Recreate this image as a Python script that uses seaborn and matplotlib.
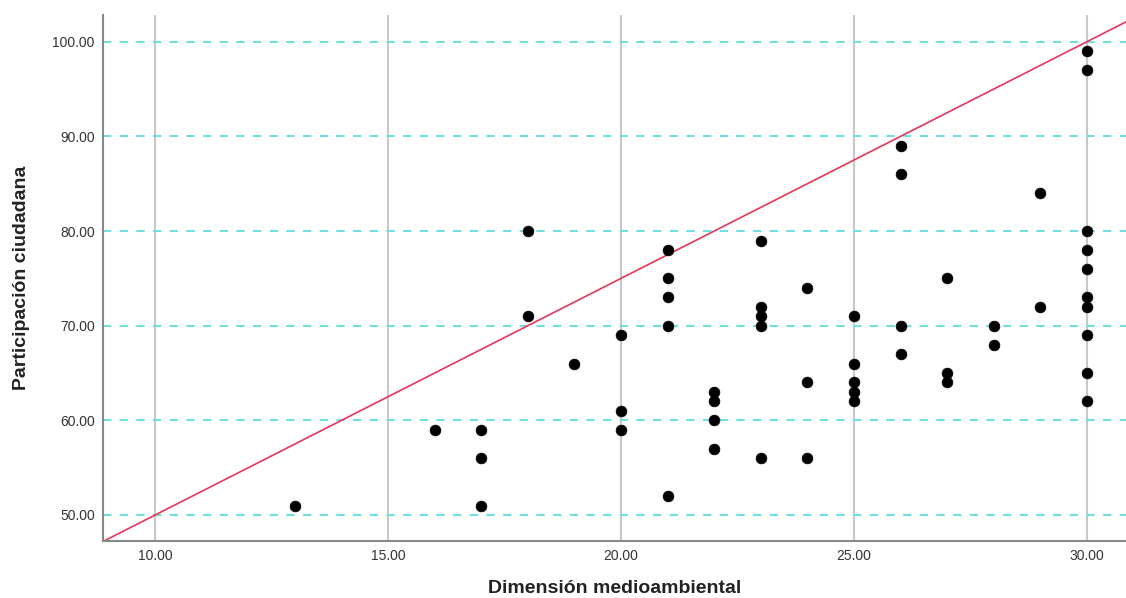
import numpy as np
import pandas as pd
import matplotlib
matplotlib.use("Agg")
import matplotlib.pyplot as plt
import seaborn as sns

# Dimensión medioambiental (x) y Participación ciudadana (y)
dimension = [13,
             16,
             17, 17, 17,
             18, 18,
             19,
             20, 20, 20,
             21, 21, 21, 21, 21,
             22, 22, 22, 22,
             23, 23, 23, 23, 23,
             24, 24, 24,
             25, 25, 25, 25, 25,
             26, 26, 26, 26,
             27, 27, 27,
             28, 28,
             29, 29,
             30, 30, 30, 30, 30, 30, 30, 30, 30, 30]
participacion = [51,
                 59,
                 59, 56, 51,
                 80, 71,
                 66,
                 69, 61, 59,
                 78, 75, 73, 70, 52,
                 63, 62, 60, 57,
                 79, 72, 71, 70, 56,
                 74, 64, 56,
                 71, 66, 64, 63, 62,
                 89, 86, 70, 67,
                 75, 65, 64,
                 70, 68,
                 84, 72,
                 99, 97, 80, 78, 76, 73, 72, 69, 65, 62]

# reference line
line_x = [8.88, 30.84]
line_intercept = 25.0
line_slope = 2.5

x_ticks = [10, 15, 20, 25, 30]
y_ticks = [50, 60, 70, 80, 90, 100]

df = pd.DataFrame({"x": dimension, "y": participacion})

sns.set_style("white")
plt.rcParams['font.family'] = ['Liberation Sans', 'DejaVu Sans']

fig = plt.figure(figsize=(11.26, 5.98), dpi=100)
ax = fig.add_axes([0.0915, 0.0953, 0.9085, 0.88])

for t in x_ticks:
    ax.axvline(t, color="#c8c8c8", lw=1.5, zorder=0)
for t in y_ticks:
    ax.axhline(t, color="#6fdfe0", lw=1.5, ls=(0, (4, 4)), zorder=0)

lx = np.array(line_x)
ax.plot(lx, line_intercept + line_slope * lx, color="#e5365a", lw=1.2, zorder=1)

sns.scatterplot(data=df, x="x", y="y", ax=ax, color="black", s=60,
                edgecolor="black", linewidth=0.5, zorder=2)

ax.set_xlim(8.88, 30.84)
ax.set_ylim(47.25, 102.85)
ax.set_xticks(x_ticks)
ax.set_yticks(y_ticks)
ax.set_xticklabels([f"{t:.2f}" for t in x_ticks])
ax.set_yticklabels([f"{t:.2f}" for t in y_ticks])
ax.tick_params(axis="both", length=0, labelsize=10, colors="#333333", pad=6)

ax.set_xlabel("Dimensión medioambiental", fontsize=14, fontweight="bold",
              color="#222222", labelpad=12)
ax.set_ylabel("Participación ciudadana", fontsize=14, fontweight="bold",
              color="#222222", labelpad=16)

for s in ["top", "right"]:
    ax.spines[s].set_visible(False)
for s in ["left", "bottom"]:
    ax.spines[s].set_color("#888888")
    ax.spines[s].set_linewidth(1.5)

fig.savefig("out.png", dpi=100)
